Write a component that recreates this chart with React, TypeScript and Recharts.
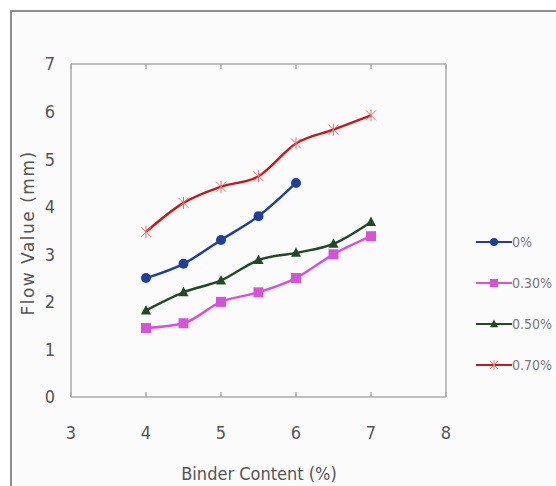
import { LineChart, Line, XAxis, YAxis } from 'recharts'

const binderContent = [4, 4.5, 5, 5.5, 6, 6.5, 7]
const flow0 = [2.5, 2.8, 3.3, 3.8, 4.5]
const flow030 = [1.45, 1.55, 2.0, 2.2, 2.5, 3.0, 3.38]
const flow050 = [1.82, 2.2, 2.45, 2.88, 3.03, 3.22, 3.68]
const flow070 = [3.47, 4.08, 4.42, 4.64, 5.33, 5.62, 5.92]

const xTicks = [3, 4, 5, 6, 7, 8]
const yTicks = [0, 1, 2, 3, 4, 5, 6, 7]

type Shape = 'circle' | 'square' | 'triangle' | 'star'

const series: { key: string; name: string; color: string; shape: Shape; values: number[] }[] = [
  { key: 's0', name: '0%', color: '#1f3f9e', shape: 'circle', values: flow0 },
  { key: 's30', name: '0.30%', color: '#d852d8', shape: 'square', values: flow030 },
  { key: 's50', name: '0.50%', color: '#1f4a26', shape: 'triangle', values: flow050 },
  { key: 's70', name: '0.70%', color: '#c21a1f', shape: 'star', values: flow070 },
]

const data = binderContent.map((x, i) => {
  const row: Record<string, number | undefined> = { x }
  series.forEach((s) => {
    row[s.key] = s.values[i]
  })
  return row
})

function marker(shape: Shape, color: string, cx: number, cy: number, size = 1) {
  switch (shape) {
    case 'circle':
      return <circle cx={cx} cy={cy} r={5 * size} fill={color} />
    case 'square':
      return <rect x={cx - 5 * size} y={cy - 5 * size} width={10 * size} height={10 * size} fill={color} />
    case 'triangle':
      return (
        <polygon
          points={`${cx},${cy - 5.5 * size} ${cx + 5 * size},${cy + 4 * size} ${cx - 5 * size},${cy + 4 * size}`}
          fill={color}
        />
      )
    default:
      return (
        <g stroke="#e07070" strokeWidth={1}>
          <line x1={cx - 5 * size} y1={cy - 5 * size} x2={cx + 5 * size} y2={cy + 5 * size} />
          <line x1={cx - 5 * size} y1={cy + 5 * size} x2={cx + 5 * size} y2={cy - 5 * size} />
          <line x1={cx} y1={cy - 6 * size} x2={cx} y2={cy + 6 * size} />
        </g>
      )
  }
}

const makeDot = (shape: Shape, color: string) => (props: any) => {
  const { cx, cy, index, value } = props
  if (cx == null || cy == null || value == null) return <g key={`e-${index}`} />
  return <g key={`d-${index}`}>{marker(shape, color, cx, cy)}</g>
}

// frame axes only need their tick marks, not labels
const noLabel = () => <g />

const axisColor = '#ababab'
const narrow = 'Liberation Sans Narrow, DejaVu Sans Condensed, sans-serif'
const tickStyle = { fill: '#555', fontSize: 18, fontFamily: narrow }

export default function App() {
  return (
    <div style={{ position: 'absolute', left: 0, top: 0, width: 556, height: 486, background: '#fff', overflow: 'hidden' }}>
      <div
        style={{
          position: 'absolute',
          left: 10,
          top: 10,
          width: 600,
          height: 600,
          border: '2px solid #8c8c8c',
          background: '#fbfbfb',
        }}
      />
      <div style={{ position: 'absolute', left: 0, top: 0 }}>
        <LineChart width={556} height={486} data={data} margin={{ top: 64, right: 110, bottom: 0, left: 0 }}>
          {/* labelled axes, no lines */}
          <XAxis
            xAxisId="bottom"
            dataKey="x"
            type="number"
            domain={[3, 8]}
            ticks={xTicks}
            height={89}
            axisLine={false}
            tickLine={false}
            tickSize={0}
            tickMargin={29}
            tick={tickStyle}
          />
          <YAxis
            yAxisId="left"
            type="number"
            domain={[0, 7]}
            ticks={yTicks}
            width={71}
            axisLine={false}
            tickLine={false}
            tickSize={0}
            tickMargin={16}
            tick={tickStyle}
          />
          {/* mirrored frame axes with inward ticks */}
          <XAxis
            xAxisId="bottomFrame"
            dataKey="x"
            type="number"
            domain={[3, 8]}
            ticks={xTicks}
            mirror
            height={1}
            stroke={axisColor}
            strokeWidth={1.5}
            tickSize={5}
            tick={noLabel}
          />
          <XAxis
            xAxisId="topFrame"
            orientation="top"
            dataKey="x"
            type="number"
            domain={[3, 8]}
            ticks={xTicks}
            mirror
            height={1}
            stroke={axisColor}
            strokeWidth={1.5}
            tickSize={5}
            tick={noLabel}
          />
          <YAxis
            yAxisId="leftFrame"
            type="number"
            domain={[0, 7]}
            ticks={yTicks}
            mirror
            width={1}
            stroke={axisColor}
            strokeWidth={1.5}
            tickSize={5}
            tick={noLabel}
          />
          <YAxis
            yAxisId="rightFrame"
            orientation="right"
            type="number"
            domain={[0, 7]}
            ticks={yTicks}
            mirror
            width={1}
            stroke={axisColor}
            strokeWidth={1.5}
            tickSize={5}
            tick={noLabel}
          />
          {series.map((s) => (
            <Line
              key={s.key}
              xAxisId="bottom"
              yAxisId="left"
              type="monotone"
              dataKey={s.key}
              name={s.name}
              stroke={s.color}
              strokeWidth={2.5}
              dot={makeDot(s.shape, s.color)}
              activeDot={false}
              connectNulls={false}
              isAnimationActive={false}
            />
          ))}
        </LineChart>
      </div>
      <div
        style={{
          position: 'absolute',
          left: 28,
          top: 233,
          transform: 'translate(-50%, -50%) rotate(-90deg)',
          whiteSpace: 'nowrap',
          fontFamily: 'DejaVu Sans, sans-serif',
          fontSize: 17,
          letterSpacing: 1.5,
          color: '#555',
        }}
      >
        Flow Value (mm)
      </div>
      <div
        style={{
          position: 'absolute',
          left: 259,
          top: 473,
          transform: 'translate(-50%, -50%)',
          whiteSpace: 'nowrap',
          fontFamily: narrow,
          fontSize: 18,
          color: '#555',
        }}
      >
        Binder Content (%)
      </div>
      {series.map((s, i) => (
        <div
          key={s.key}
          style={{
            position: 'absolute',
            left: 476,
            top: 232 + i * 41,
            height: 20,
            display: 'flex',
            alignItems: 'center',
            fontFamily: narrow,
            fontSize: 14,
            color: '#777',
          }}
        >
          <svg width={36} height={20}>
            <line x1={0} y1={10} x2={36} y2={10} stroke={s.color} strokeWidth={2} />
            {marker(s.shape, s.color, 18, 10, 0.8)}
          </svg>
          <span>{s.name}</span>
        </div>
      ))}
    </div>
  )
}
